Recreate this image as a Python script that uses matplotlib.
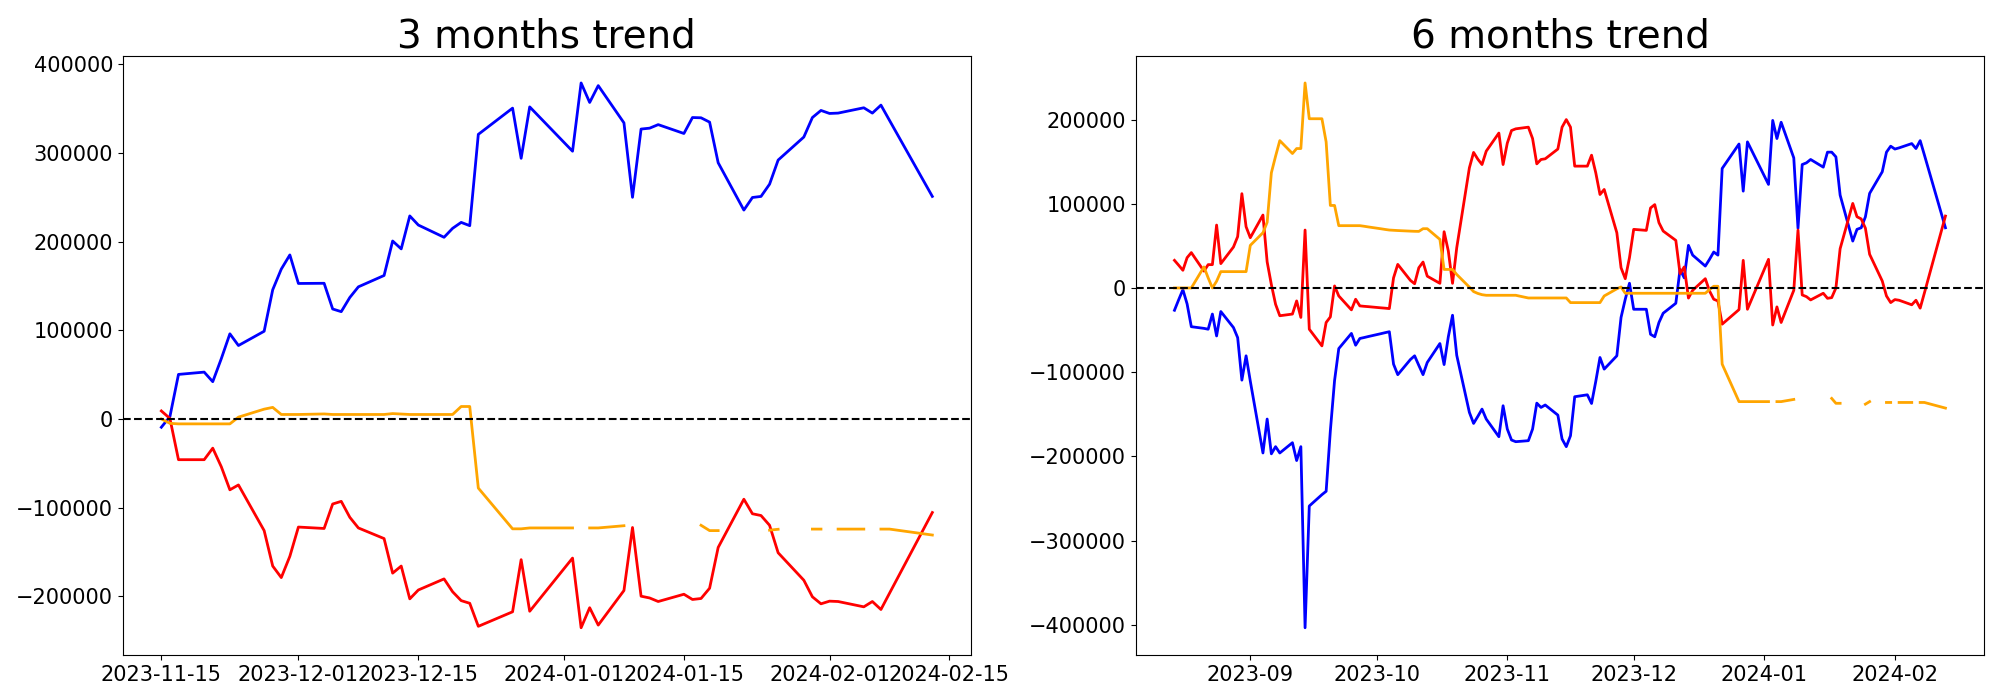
import numpy as np
import pandas as pd
import matplotlib
matplotlib.use("Agg")
import matplotlib.pyplot as plt

# ---------------- categories (trading dates) ----------------
holidays = ["2023-12-25", "2023-12-29", "2024-01-01", "2024-02-09", "2024-02-12"]
dates_6m = pd.bdate_range("2023-08-14", "2024-02-13").difference(pd.to_datetime(holidays))
dates_3m = dates_6m[dates_6m >= "2023-11-15"]

titles = ["3 months trend", "6 months trend"]

N = None
# ---------------- 3 months series (thousands) ----------------
blue_3m = [
    -9.4, 2.6, 50.2,
    52.8, 42, 68, 96, 82.8,
    98.9, 145.7, 169, 185, 152.8,
    153, 124, 121, 137, 149,
    161.8, 200.7, 191.8, 229, 218.7,
    204.9, 215, 221.7, 218, 321,
    350.6, 294, 352,
    302, 379, 357, 376,
    334, 250, 327, 328, 332,
    322, 340, 339.7, 334.8, 289,
    235.6, 249.8, 251, 264.8, 292,
    318, 340, 348, 344.6, 345,
    351, 345, 354, 336.8,
    251,
]
red_3m = [
    9, 0.5, -46,
    -46, -33, -54, -80, -74.5,
    -126, -166, -179, -155, -122,
    -123.6, -96, -93, -111, -123,
    -135, -174, -166, -203, -193,
    -180.5, -195, -205, -208, -234,
    -217.6, -158.8, -217,
    -157, -235.6, -213, -232.6,
    -193.6, -122.5, -200, -202, -206,
    -197.8, -203.7, -202.6, -191, -145,
    -90.6, -107, -109, -120, -151,
    -182, -200.7, -208.6, -205.6, -206,
    -212, -206, -215, -196.7,
    -105.6,
]
orange_3m = [
    0, -5, -5.6,
    -5.6, -5.6, -5.6, -5.6, 2,
    11, 13, 5, 5, 5,
    5.6, 5, 5, 5, 5,
    5, 6, 5.5, 5, 5,
    5, 5, 14, 14, -78,
    -124, -124, -123,
    -123, N, -123, -123,
    -120.5, N, N, N, N,
    N, N, -120, -126, -126,
    N, N, N, -125.5, -124.5,
    N, -124.3, -124.3, N, -124.3,
    -124.3, N, -124.3, -124.3,
    -131,
]

# ---------------- 6 months series (thousands) ----------------
blue_6m = [
    -26.5, -14, -2, -19, -46,
    -48, -49, -31, -57, -28,
    -47, -59, -109.5, -80.6, -110.7,
    -196, -155.7, -197, -188.5, -196,
    -183.8, -205, -188.5, -403.6, -259,
    -245.5, -241.5, -169.6, -110, -72,
    -54, -68, -60, -58.9, -57.7,
    -54.3, -53.1, -52, -90.5, -103,
    -85, -80.6, -92, -103, -88.5,
    -66, -91, -58, -32.4, -80,
    -147.8, -160.9, -152.6, -143.9, -155.7,
    -176.7, -139.9, -167.6, -180.6, -182.6,
    -181.4, -167.6, -136.8, -141.9, -139,
    -151, -179.4, -188.5, -175.5, -129.2,
    -126.9, -137.2, -111, -82.6, -96.4,
    -80.6, -35, -13.4, 5.6, -25.3,
    -25.3, -55, -58, -41, -30,
    -18.2, 22, 12, 50.6, 39,
    26, 34, 42.7, 39, 141.9,
    171, 115, 173.5,
    123, 199, 177.5, 196.8,
    154.5, 70.8, 146.6, 148.6, 152.6,
    143.5, 161.3, 161.3, 155.7, 110.3,
    55.7, 69.6, 71.5, 84.5, 112.3,
    138, 161.3, 168.4, 165, 166.4,
    171.5, 165.6, 175, 158,
    71.5,
]
red_6m = [
    32.8, 27, 21, 36, 42,
    20, 27.7, 27.7, 74.7, 28.9,
    48.6, 61, 112, 72.7, 59.7,
    86.6, 31, 4, -19.4, -33,
    -31, -15.4, -35, 68.8, -49,
    -68.8, -41, -34.4, 2.4, -9.5,
    -26, -13.4, -21.3, -21.8, -22.2,
    -23.6, -24, -24.5, 12, 28,
    9, 5, 24, 30.8, 14,
    5.5, 66.8, 43.9, 5.5, 47.8,
    142.7, 161, 153, 146.6, 162.5,
    184, 146.6, 172, 187, 189,
    191, 177.5, 147.4, 152.6, 153.4,
    165, 191, 200, 191, 144.7,
    144.7, 157.7, 136.8, 111, 117,
    65.6, 24, 11, 36, 69.6,
    68.4, 95, 99, 77.5, 67.6,
    56.5, 17, 25, -12, -2.8,
    11, -3.6, -13.4, -15.4, -43,
    -25.7, 32.8, -25.3,
    34, -44, -22.5, -41,
    -2.8, 68.8, -8.3, -10.3, -14.2,
    -6.3, -12.3, -11.5, 0, 46.6,
    100.4, 84.6, 82, 71, 40,
    8.3, -9.5, -17.4, -13.8, -14.6,
    -20, -14.6, -24, -6,
    85.4,
]
orange_6m = [
    0, 0, 0, 0, 0,
    25, 12, 0, 8, 19.4,
    19.4, 19.4, 19.4, 19.4, 50.6,
    65.6, 78, 136.8, 156.5, 175,
    159.7, 165.6, 165.6, 243.5, 201,
    201, 173.5, 98, 98, 74,
    74, 74, 74, 73.3, 72.5,
    70.3, 69.5, 68.8, 68.5, 68.2,
    67.5, 67.3, 67.2, 70.4, 70.4,
    57.7, 22, 22, 22, 16,
    1, -4.3, -6.5, -8, -8.7,
    -8.7, -8.7, -8.7, -8.7, -8.7,
    -11.9, -11.9, -11.9, -11.9, -11.9,
    -11.9, -11.9, -11.9, -17.4, -17.4,
    -17.4, -17.4, -17.4, -17.4, -9.5,
    -1, 1.2, -6.3, -6.3, -6.3,
    -6.3, -6.3, -6.3, -6.3, -6.3,
    -6.3, -6.3, -6.3, -6.3, -6.3,
    -6.3, -2, 2, 2, -90.5,
    -135, -135, -135,
    -135, N, -135, -135,
    -132.4, N, N, N, N,
    N, N, -131.2, -137, -137,
    N, N, N, -138, -135,
    N, -136, -136, N, -136,
    -136, N, -136, -136,
    -142.7,
]


def arr(values):
    return np.array([np.nan if v is None else v * 1000 for v in values], dtype=float)


fig, axes = plt.subplots(1, 2, figsize=(20, 7), dpi=100)
fig.subplots_adjust(left=0.0614, right=0.992, bottom=0.0643, top=0.9204, wspace=0.1946)

panels = [
    (dates_3m, blue_3m, red_3m, orange_3m),
    (dates_6m, blue_6m, red_6m, orange_6m),
]
for ax, title, (d, b, r, o) in zip(axes, titles, panels):
    ax.plot(d, arr(b), color="blue", linewidth=2)
    ax.plot(d, arr(r), color="red", linewidth=2)
    ax.plot(d, arr(o), color="orange", linewidth=2)
    ax.axhline(0, color="black", linestyle="--", linewidth=1.5)
    ax.set_title(title, fontsize=28)
    ax.tick_params(axis="both", labelsize=15)

fig.savefig("out.png", dpi=100)
